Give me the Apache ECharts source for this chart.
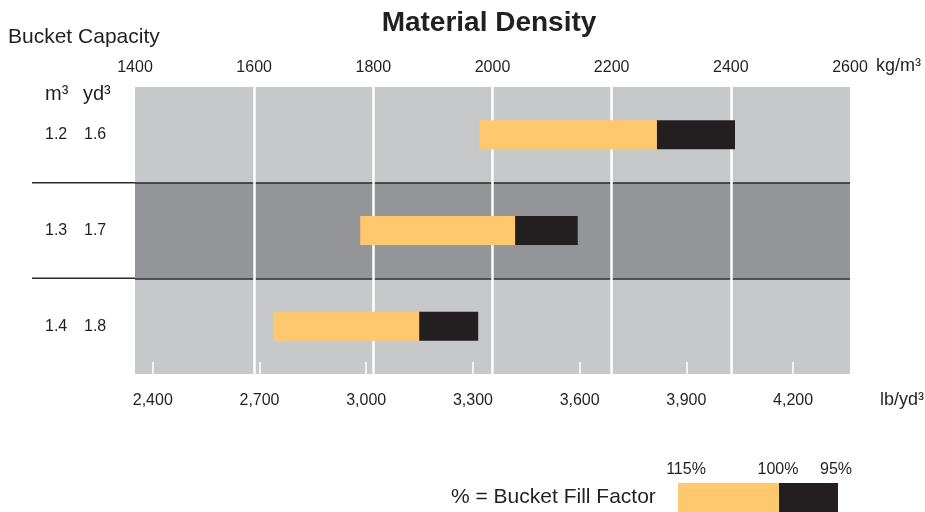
<!DOCTYPE html>
<html>
<head>
<meta charset="utf-8">
<script src="https://cdn.jsdelivr.net/npm/echarts@6/dist/echarts.min.js"></script>
<style>
html,body{margin:0;padding:0;background:#fff;}
#c{width:925px;height:512px;}
</style>
</head>
<body>
<div id="c"></div>
<script>
// ---- data ----
const capM3 = ['1.2', '1.3', '1.4'];
const capYd3 = ['1.6', '1.7', '1.8'];
const density115 = [1978, 1778, 1633];   // kg/m3 at 115% fill
const density100 = [2276, 2038, 1877];   // kg/m3 at 100% fill
const density95 = [2407, 2143, 1976];    // kg/m3 at 95% fill
const kgTicks = [1400, 1600, 1800, 2000, 2200, 2400, 2600];
const lbTicks = [2400, 2700, 3000, 3300, 3600, 3900, 4200];
const legendLabels = ['115%', '100%', '95%'];

const TXT = '#231f20';
const NUM = "'Liberation Sans',Arial,sans-serif";
const SANS = "'Liberation Sans',Arial,sans-serif";
const NUMSIZE = 16;
const ORANGE = '#fec96e';
const BLACK = '#231f20';
const SEP = '#2b2a2b';

const chart = echarts.init(document.getElementById('c'), null, {renderer: 'canvas'});

const orangePart = density100.map((v, i) => v - density115[i]);
const blackPart = density95.map((v, i) => v - density100[i]);

chart.setOption({
  animation: false,
  backgroundColor: '#fff',
  grid: {
    left: 135, right: 75, top: 87, bottom: 138,
    outerBoundsMode: 'none', containLabel: false,
    show: true, backgroundColor: '#c7c8ca', borderWidth: 0
  },
  xAxis: [{
    type: 'value', position: 'top',
    min: kgTicks[0], max: kgTicks[kgTicks.length - 1], interval: 200,
    z: 1,
    axisLine: {show: false}, axisTick: {show: false},
    axisLabel: {margin: 11, fontFamily: NUM, fontSize: NUMSIZE, color: TXT, formatter: v => String(v)},
    splitLine: {show: true, showMinLine: false, showMaxLine: false, lineStyle: {color: '#ffffff', width: 2.5}}
  }, {
    type: 'value', position: 'bottom',
    min: 2350, max: 4360,
    z: 1,
    axisLine: {show: false},
    axisTick: {show: true, inside: true, length: 12, customValues: lbTicks, lineStyle: {color: '#ffffff', width: 1.5}},
    axisLabel: {margin: 19, fontFamily: NUM, fontSize: NUMSIZE, color: TXT, customValues: lbTicks,
      formatter: v => Number(v).toLocaleString('en-US')},
    splitLine: {show: false}
  }],
  yAxis: {
    type: 'category', data: capM3, inverse: true,
    z: 0,
    axisLine: {show: false}, axisTick: {show: false},
    splitLine: {show: true, showMinLine: false, showMaxLine: false, lineStyle: {color: SEP, width: 1.5}},
    splitArea: {show: true, areaStyle: {color: ['rgba(0,0,0,0)', '#939598', 'rgba(0,0,0,0)']}},
    axisLabel: {
      margin: 90, align: 'left', fontFamily: NUM, fontSize: NUMSIZE, color: TXT,
      formatter: (v, i) => '{m|' + v + '}{y|' + capYd3[i] + '}',
      rich: {
        m: {width: 39, align: 'left', fontFamily: NUM, fontSize: NUMSIZE, color: TXT},
        y: {align: 'left', fontFamily: NUM, fontSize: NUMSIZE, color: TXT}
      }
    }
  },
  series: [{
    type: 'bar', stack: 'd', xAxisIndex: 0, barWidth: 29, silent: true, z: 3,
    itemStyle: {color: 'rgba(0,0,0,0)'}, data: density115
  }, {
    type: 'bar', stack: 'd', xAxisIndex: 0, barWidth: 29, z: 3,
    itemStyle: {color: ORANGE}, data: orangePart
  }, {
    type: 'bar', stack: 'd', xAxisIndex: 0, barWidth: 29, z: 3,
    itemStyle: {color: BLACK}, data: blackPart
  }]
});

// row separators left of the plot (computed from axis) and annotation texts
const yc = capM3.map((c, i) => chart.convertToPixel({yAxisIndex: 0}, i));
const xLeft = chart.convertToPixel({xAxisIndex: 0}, kgTicks[0]);
const xRight = chart.convertToPixel({xAxisIndex: 0}, kgTicks[kgTicks.length - 1]);
const seps = [];
for (let i = 0; i < yc.length - 1; i++) {
  const y = (yc[i] + yc[i + 1]) / 2;
  seps.push({type: 'line', z: 5, silent: true,
    shape: {x1: 32, y1: y, x2: xLeft, y2: y},
    style: {stroke: SEP, lineWidth: 1.5}});
}

const txt = (text, x, y, font, size, align, weight) => ({
  type: 'text', z: 10, silent: true, x: x, y: y,
  style: {text: text, fill: TXT, font: (weight || 'normal') + ' ' + size + 'px ' + font,
    textAlign: align || 'left', textVerticalAlign: 'middle'}
});

chart.setOption({
  graphic: seps.concat([
    txt('Material Density', 489, 23, SANS, 28, 'center', 'bold'),
    txt('Bucket Capacity', 8, 37, SANS, 21),
    txt('m³', 45, 94, SANS, 20),
    txt('yd³', 83, 94, SANS, 20),
    txt('kg/m³', xRight + 26, 66, SANS, 18),
    txt('lb/yd³', xRight + 30, 400, SANS, 18),
    txt(legendLabels[0], 686, 470, NUM, NUMSIZE, 'center'),
    txt(legendLabels[1], 778, 470, NUM, NUMSIZE, 'center'),
    txt(legendLabels[2], 836, 470, NUM, NUMSIZE, 'center'),
    txt('% = Bucket Fill Factor', 451, 497, SANS, 21),
    {type: 'rect', silent: true, shape: {x: 678, y: 483, width: 101, height: 30}, style: {fill: ORANGE}},
    {type: 'rect', silent: true, shape: {x: 779, y: 483, width: 59, height: 30}, style: {fill: BLACK}}
  ])
});
</script>
</body>
</html>
